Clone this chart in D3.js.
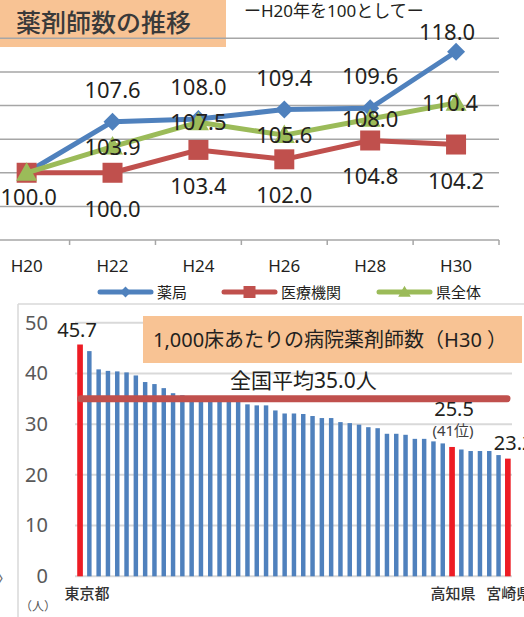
<!DOCTYPE html>
<html>
<head>
<meta charset="utf-8">
<script src="https://cdn.jsdelivr.net/npm/d3@7"></script>
<style>
  body { margin: 0; background: #fff; overflow: hidden; }
  text { font-family: "Noto Sans", "Noto Sans CJK JP", sans-serif; }
</style>
</head>
<body>
<script>
'use strict';

// --- top chart data (H20 = 100) ---
const years = ["H20", "H22", "H24", "H26", "H28", "H30"];
const seriesNames = ["薬局", "医療機関", "県全体"];
const pharmacy = [100.0, 107.6, 108.0, 109.4, 109.6, 118.0];
const medical = [100.0, 100.0, 103.4, 102.0, 104.8, 104.2];
const prefTotal = [100.0, 103.9, 107.5, 105.6, 108.0, 110.4];
const lineTicks = [90, 95, 100, 105, 110, 115, 120];

// --- bottom chart data (pharmacists per 1,000 beds, ranked) ---
const ranks = d3.range(1, 48);
const perBeds = [45.7, 44.4, 40.8, 40.5, 40.4, 40.2, 39.6, 38.3, 37.9, 37.1,
                 36.1, 35.7, 35.5, 35.3, 35.1, 35.0, 34.8, 34.6, 33.9, 33.7,
                 33.7, 32.7, 32.1, 32.1, 32.0, 31.6, 31.2, 31.2, 30.4, 30.2,
                 29.9, 29.4, 29.2, 28.1, 28.1, 27.9, 27.1, 27.1, 26.6, 26.2,
                 25.5, 25.0, 24.7, 24.7, 24.7, 23.9, 23.2];
const prefLabels = {1: "東京都", 41: "高知県", 47: "宮崎県"};
const highlighted = [1, 41, 47];
const nationalAvg = 35.0;
const barTicks = [0, 10, 20, 30, 40, 50];

const W = 524, H = 617;
const svg = d3.select("body").append("svg")
  .attr("width", W)
  .attr("height", H);

const peach = "#f8c394";
const colors = ["#4f81bd", "#c0504d", "#9bbb59"];
const textColor = "#231f20";

drawLineChart();
drawBarChart();

// drawLineChart draws the upper trend chart with its title and legend
function drawLineChart() {
  const g = svg.append("g");

  // title box
  g.append("rect")
    .attr("x", 0).attr("y", 0)
    .attr("width", 226).attr("height", 47)
    .attr("fill", peach);

  const x = d3.scaleBand().domain(years).range([-16.3, 499]);
  const y = d3.scaleLinear().domain([90, 120]).range([240, 38.3]);

  // gridlines
  g.selectAll(".grid")
    .data(lineTicks.filter(t => t > 90))
    .enter().append("line")
      .attr("x1", -16).attr("x2", 499)
      .attr("y1", d => y(d)).attr("y2", d => y(d))
      .style("stroke", "#a6a6a6")
      .style("stroke-width", "1.5px");

  g.append("text")
    .attr("x", 16).attr("y", 32)
    .style("font-size", "25px")
    .style("font-weight", "500")
    .style("fill", "#3a3a3a")
    .text("薬剤師数の推移");

  g.append("text")
    .attr("x", 244).attr("y", 17)
    .style("font-size", "17px")
    .style("fill", textColor)
    .text("ーH20年を100としてー");

  // x axis
  const axis = g.append("g")
    .attr("transform", "translate(0,240)")
    .call(d3.axisBottom(x).tickSize(0).tickPadding(20));
  axis.select(".domain").remove();
  axis.selectAll("text")
    .style("font-size", "17px")
    .style("fill", textColor)
    .style("font-family", "'Noto Sans', sans-serif");

  g.append("line")
    .attr("x1", -16).attr("x2", 499)
    .attr("y1", y(90)).attr("y2", y(90))
    .style("stroke", "#a6a6a6")
    .style("stroke-width", "1.5px");

  g.selectAll(".tick-mark")
    .data(years.slice(1).map(d => x(d)).concat([x(years[5]) + x.step()]))
    .enter().append("line")
      .attr("x1", d => d).attr("x2", d => d)
      .attr("y1", y(90)).attr("y2", y(90) + 5)
      .style("stroke", "#a6a6a6")
      .style("stroke-width", "1.5px");

  const cx = d => x(d) + x.bandwidth() / 2;
  const allSeries = [pharmacy, medical, prefTotal];
  const line = d3.line().x((d, i) => cx(years[i])).y(d => y(d));

  allSeries.forEach((vals, s) => {
    g.append("path")
      .datum(vals)
      .attr("d", line)
      .style("fill", "none")
      .style("stroke", colors[s])
      .style("stroke-width", "5px")
      .style("stroke-linejoin", "round");

    g.selectAll(".m" + s)
      .data(vals)
      .enter().append("path")
        .attr("transform", (d, i) => "translate(" + cx(years[i]) + "," + y(d) + ")")
        .attr("d", markerPath(s, 1))
        .style("fill", colors[s]);
  });

  // data labels
  const labelStyle = sel => sel
    .style("font-size", "22px")
    .style("fill", textColor)
    .style("text-anchor", "middle");

  // 薬局: above the point
  g.selectAll(".lp")
    .data(pharmacy.slice(1))
    .enter().append("text")
      .attr("x", (d, i) => cx(years[i + 1]) - (i === 4 ? 9 : 0))
      .attr("y", (d, i) => y(d) - (i === 4 ? 12 : 24))
      .call(labelStyle)
      .text(d => d.toFixed(1));

  // 医療機関: below the point
  g.selectAll(".lm")
    .data(medical.slice(1))
    .enter().append("text")
      .attr("x", (d, i) => cx(years[i + 1]))
      .attr("y", d => y(d) + 44)
      .call(labelStyle)
      .text(d => d.toFixed(1));

  // 県全体: centred on the point
  g.selectAll(".lt")
    .data(prefTotal.slice(1))
    .enter().append("text")
      .attr("x", (d, i) => cx(years[i + 1]) - (i === 4 ? 6 : 0))
      .attr("y", d => y(d) + 8)
      .call(labelStyle)
      .text(d => d.toFixed(1));

  // shared starting point
  g.append("text")
    .attr("x", cx(years[0]) + 2)
    .attr("y", y(prefTotal[0]) + 32)
    .call(labelStyle)
    .text(prefTotal[0].toFixed(1));

  // legend
  const legendX = [98, 222, 377];
  seriesNames.forEach((name, s) => {
    const lg = g.append("g").attr("transform", "translate(" + legendX[s] + ",292)");
    lg.append("line")
      .attr("x1", 2).attr("x2", 53)
      .style("stroke", colors[s])
      .style("stroke-width", "5px")
      .style("stroke-linecap", "round");
    lg.append("path")
      .attr("transform", "translate(27.5,0)")
      .attr("d", markerPath(s, 0.6))
      .style("fill", colors[s]);
    lg.append("text")
      .attr("x", 59).attr("y", 6)
      .style("font-size", "15px")
      .style("fill", textColor)
      .text(name);
  });
}

// markerPath returns diamond / square / triangle shape for each series
function markerPath(s, k) {
  if (s === 0) {
    const r = 9 * k;
    return "M0," + (-r) + "L" + r + ",0L0," + r + "L" + (-r) + ",0Z";
  }
  if (s === 1) {
    const r = 10 * k;
    return "M" + (-r) + "," + (-r) + "H" + r + "V" + r + "H" + (-r) + "Z";
  }
  const r = 10.5 * k;
  return "M0," + (-r) + "L" + r + "," + (r * 0.75) + "L" + (-r) + "," + (r * 0.75) + "Z";
}

// drawBarChart draws the lower ranked bar chart with national average
function drawBarChart() {
  const g = svg.append("g");

  // outer frame
  g.append("line")
    .attr("x1", 18).attr("x2", W).attr("y1", 304).attr("y2", 304)
    .style("stroke", "#d9d9d9").style("stroke-width", "1.5px");
  g.append("line")
    .attr("x1", 18).attr("x2", 18).attr("y1", 304).attr("y2", H)
    .style("stroke", "#d9d9d9").style("stroke-width", "1.5px");

  const x = d3.scaleBand().domain(ranks).range([75.4, 512.5])
    .paddingInner(0.52).paddingOuter(0.26);
  const y = d3.scaleLinear().domain([0, 50]).range([576.3, 322.7]);

  g.selectAll(".grid")
    .data(barTicks)
    .enter().append("line")
      .attr("x1", 75).attr("x2", 512)
      .attr("y1", d => y(d)).attr("y2", d => y(d))
      .style("stroke", "#d9d9d9")
      .style("stroke-width", "2px");

  const yAxis = g.append("g")
    .attr("transform", "translate(48,0)")
    .call(d3.axisLeft(y).tickValues(barTicks).tickSize(0).tickPadding(0));
  yAxis.select(".domain").remove();
  yAxis.selectAll("text")
    .style("font-size", "20px")
    .style("fill", "#595959")
    .style("font-family", "'Noto Sans', sans-serif");

  g.selectAll(".bar")
    .data(perBeds)
    .enter().append("rect")
      .attr("x", (d, i) => x(ranks[i]) - (highlighted.includes(ranks[i]) ? 0.6 : 0))
      .attr("y", d => y(d))
      .attr("width", (d, i) => x.bandwidth() + (highlighted.includes(ranks[i]) ? 1.2 : 0))
      .attr("height", d => y(0) - y(d))
      .style("fill", (d, i) => highlighted.includes(ranks[i]) ? "#ed1c24" : "#4f81bd");

  // national average line
  g.append("line")
    .attr("x1", x(1) + 3).attr("x2", 507)
    .attr("y1", y(nationalAvg)).attr("y2", y(nationalAvg))
    .style("stroke", "#c0504d")
    .style("stroke-width", "7px")
    .style("stroke-linecap", "round");

  g.append("text")
    .attr("x", 230).attr("y", y(nationalAvg) - 11)
    .style("font-size", "21px")
    .style("fill", textColor)
    .text("全国平均" + nationalAvg.toFixed(1) + "人");

  // title box
  g.append("rect")
    .attr("x", 143).attr("y", 316)
    .attr("width", 379).attr("height", 47)
    .attr("fill", peach);
  g.append("text")
    .attr("x", 153).attr("y", 347)
    .style("font-size", "20px")
    .style("fill", textColor)
    .text("1,000床あたりの病院薬剤師数（H30 ）");

  const bx = r => x(r) + x.bandwidth() / 2;
  const val = r => perBeds[r - 1];

  // value labels for highlighted prefectures
  g.append("text")
    .attr("x", bx(1) - 3).attr("y", y(val(1)) - 8)
    .style("font-size", "20px").style("fill", textColor)
    .style("text-anchor", "middle")
    .text(val(1).toFixed(1));
  g.append("text")
    .attr("x", bx(41) + 2).attr("y", y(val(41)) - 31)
    .style("font-size", "20px").style("fill", textColor)
    .style("text-anchor", "middle")
    .text(val(41).toFixed(1));
  g.append("text")
    .attr("x", bx(41) + 1).attr("y", y(val(41)) - 11)
    .style("font-size", "15px").style("fill", "#404040")
    .style("text-anchor", "middle")
    .text("(41位)");
  g.append("text")
    .attr("x", bx(47) - 14).attr("y", y(val(47)) - 9)
    .style("font-size", "20px").style("fill", textColor)
    .text(val(47).toFixed(1));

  // category labels
  g.selectAll(".cat")
    .data(highlighted)
    .enter().append("text")
      .attr("x", d => bx(d) + (d === 1 ? 7 : 1))
      .attr("y", 599)
      .style("font-size", "15px")
      .style("font-weight", "500")
      .style("fill", "#333")
      .style("text-anchor", "middle")
      .text(d => prefLabels[d]);

  g.append("text")
    .attr("x", 20).attr("y", 611)
    .style("font-size", "12px")
    .style("fill", "#555")
    .text("（人）");

  g.append("text")
    .attr("x", -4).attr("y", 584)
    .style("font-size", "16px")
    .style("fill", "#666")
    .text("〉");
}
</script>
</body>
</html>
